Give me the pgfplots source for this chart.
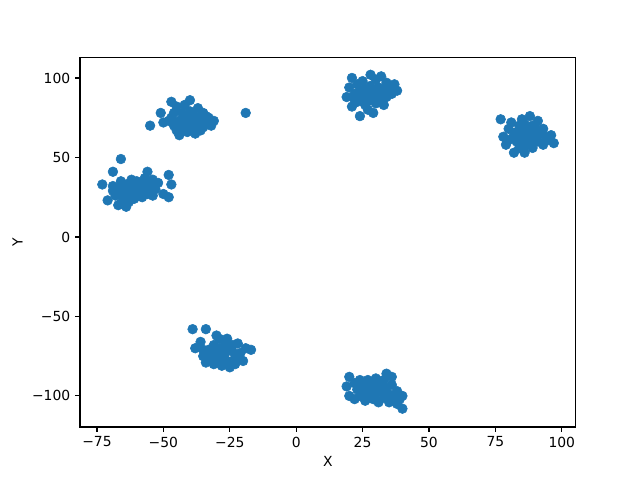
\documentclass[border=0pt]{standalone}
\usepackage{pgfplots}
\pgfplotsset{compat=1.18}
\usepackage{fontspec}
\setmainfont{DejaVu Sans}
\definecolor{mplblue}{HTML}{1F77B4}
\begin{document}
\begin{tikzpicture}
\path[use as bounding box] (-57.6pt,-38.2pt) rectangle (403.2pt,307.4pt);
\begin{axis}[
  at={(0,0)}, anchor=south west,
  scale only axis, width=357pt, height=265.7pt,
  xmin=-81.4, xmax=105.3, ymin=-119.5, ymax=112.6,
  xtick={-75,-50,-25,0,25,50,75,100},
  xticklabels={−75,−50,−25,0,25,50,75,100},
  ytick={-100,-50,0,50,100},
  yticklabels={−100,−50,0,50,100},
  tick align=outside, major tick length=3.5pt,
  xtick pos=bottom, ytick pos=left,
  ticklabel style={font=\fontsize{10}{12}\selectfont},
  label style={font=\fontsize{10}{12}\selectfont},
  xlabel={X}, ylabel={Y},
  axis line style={line width=0.8pt},
  every tick/.style={line width=0.8pt, black},
]
\addplot[only marks, mark=*, mark size=3.5pt, mplblue, mark options={draw=mplblue, fill=mplblue}] coordinates {
(-73,33) (-71,23) (-69,41) (-69,29) (-68,26) (-67,31) (-67,20) (-66,49) (-66,35) (-65,24) (-65,28) (-64,33) (-63,22) (-63,30) (-62,36) (-62,26) (-61,32) (-61,24) (-60,29) (-60,35) (-59,27) (-59,33) (-58,30) (-58,25) (-57,37) (-57,31) (-56,27) (-56,41) (-55,33) (-55,29) (-54,36) (-54,26) (-53,30) (-52,34) (-50,27) (-48,39) (-47,33) (-48,25) (-66,21) (-64,19) (-69,32) (-62,31) (-64,27) (-58,32) (-60,26) (-66,30) (-56,34)
(-55,70) (-51,78) (-50,72) (-47,85) (-47,75) (-46,70) (-45,82) (-45,67) (-44,73) (-43,78) (-43,69) (-42,83) (-42,75) (-41,66) (-40,86) (-40,72) (-40,79) (-39,68) (-38,76) (-38,65) (-37,81) (-37,71) (-36,74) (-35,69) (-35,78) (-34,72) (-33,75) (-32,70) (-31,73) (-19,78) (-44,64) (-41,70) (-39,74) (-36,67) (-42,71) (-46,78) (-38,72) (-41,76) (-34,76) (-48,73)
(19,88) (20,94) (21,82) (21,100) (22,90) (23,85) (23,96) (24,76) (24,92) (25,88) (25,98) (26,83) (26,93) (27,80) (27,90) (28,102) (28,86) (28,95) (29,78) (29,91) (30,84) (30,99) (31,89) (31,94) (32,86) (32,101) (33,91) (34,88) (34,97) (35,93) (36,90) (37,96) (38,92) (27,87) (30,92) (23,89) (33,83) (29,88) (26,90) (32,93) (36,95) (22,86)
(77,74) (78,63) (79,58) (80,68) (81,72) (82,53) (82,64) (83,60) (84,70) (84,56) (85,66) (85,74) (86,62) (86,53) (87,68) (87,58) (88,76) (88,64) (89,70) (89,56) (90,62) (90,66) (91,73) (91,60) (92,65) (93,58) (93,68) (94,63) (95,61) (96,64) (97,59) (83,66) (86,71) (88,60) (80,61) (85,63) (87,65) (84,60) (90,69)
(-39,-58) (-38,-70) (-36,-66) (-34,-58) (-35,-75) (-34,-79) (-33,-71) (-32,-76) (-31,-68) (-31,-80) (-30,-73) (-29,-64) (-29,-77) (-28,-70) (-28,-81) (-27,-66) (-27,-74) (-26,-78) (-25,-69) (-25,-82) (-24,-72) (-23,-76) (-22,-67) (-21,-73) (-20,-78) (-19,-70) (-17,-71) (-30,-62) (-26,-64) (-33,-74) (-23,-80) (-29,-70) (-32,-73) (-27,-71) (-24,-68) (-30,-77) (-35,-71)
(20,-88) (19,-94) (20,-100) (22,-92) (22,-102) (23,-96) (24,-90) (24,-100) (25,-94) (26,-103) (27,-90) (27,-97) (28,-92) (28,-101) (29,-95) (30,-89) (30,-99) (31,-104) (31,-93) (32,-97) (33,-90) (33,-101) (34,-86) (34,-95) (35,-99) (35,-104) (36,-93) (37,-100) (38,-97) (38,-105) (39,-102) (40,-108) (40,-100) (26,-97) (29,-102) (36,-88) (31,-96) (27,-94) (33,-96) (25,-99)
};
\end{axis}
\end{tikzpicture}
\end{document}
